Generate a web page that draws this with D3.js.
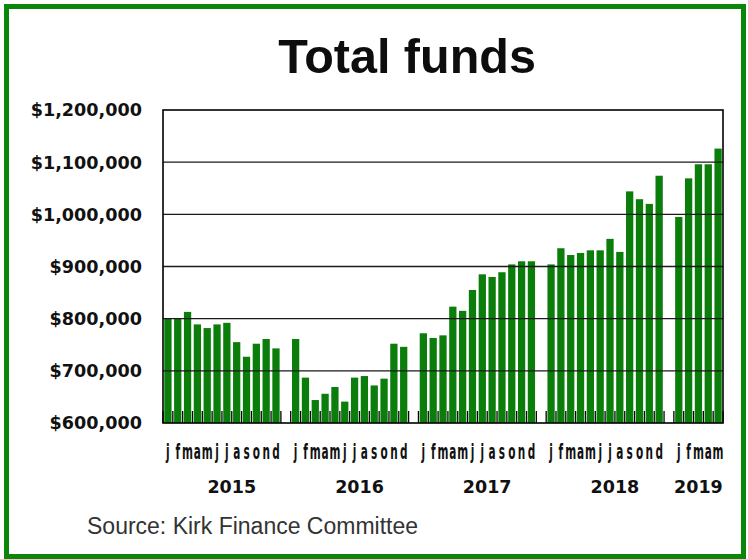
<!DOCTYPE html>
<html>
<head>
<meta charset="utf-8">
<script src="https://cdn.jsdelivr.net/npm/d3@7/dist/d3.min.js"></script>
<style>
  html, body { margin: 0; padding: 0; background: #fff; }
  svg { display: block; }
</style>
</head>
<body>
<svg id="chart" width="748" height="559"></svg>
<script>
// ---- data ----
const years = ["2015", "2016", "2017", "2018", "2019"];
const monthLetters = ["j", "f", "m", "a", "m", "j", "j", "a", "s", "o", "n", "d"];
const values2015 = [800000, 800000, 813000, 789000, 782000, 789000, 792000, 755000, 727000, 752000, 761000, 743000];
const values2016 = [761000, 687000, 644000, 656000, 669000, 641000, 687000, 690000, 672000, 685000, 752000, 746000];
const values2017 = [772000, 763000, 768000, 823000, 815000, 855000, 885000, 880000, 889000, 904000, 910000, 910000];
const values2018 = [904000, 935000, 922000, 926000, 931000, 931000, 953000, 928000, 1044000, 1029000, 1020000, 1074000];
const values2019 = [995000, 1069000, 1096000, 1096000, 1126000];
const yTicks = [600000, 700000, 800000, 900000, 1000000, 1100000, 1200000];
const seriesByYear = [values2015, values2016, values2017, values2018, values2019];

// ---- build slots (one empty slot between years) ----
const slots = [];
const groups = [];
seriesByYear.forEach((vals, yi) => {
  const first = slots.length;
  vals.forEach((v, mi) => {
    slots.push({ id: years[yi] + "-" + mi, year: years[yi], letter: monthLetters[mi], value: v });
  });
  groups.push({ year: years[yi], first: first, n: vals.length });
  if (yi < seriesByYear.length - 1) slots.push({ id: "gap" + yi, gap: true });
});

const svg = d3.select("#chart");
const plot = { left: 163, right: 723, top: 110, bottom: 423 };

// outer green frame
svg.append("rect")
  .attr("x", 6.5).attr("y", 6.5)
  .attr("width", 737).attr("height", 550)
  .attr("fill", "#fff")
  .attr("stroke", "#0a860a")
  .attr("stroke-width", 5);

const x = d3.scaleBand()
  .domain(slots.map(d => d.id))
  .range([plot.left, plot.right])
  .paddingInner(0.26)
  .paddingOuter(0.13);

const y = d3.scaleLinear()
  .domain([600000, 1200000])
  .range([plot.bottom, plot.top]);

const step = x.step();

// title
svg.append("text")
  .attr("x", 407).attr("y", 73)
  .attr("text-anchor", "middle")
  .attr("font-family", "'Liberation Sans', Arial, sans-serif")
  .attr("font-weight", "bold")
  .attr("font-size", 48.5)
  .attr("fill", "#0d0d0d")
  .text("Total funds");

// bars
svg.append("g").selectAll("rect")
  .data(slots.filter(d => !d.gap))
  .join("rect")
  .attr("x", d => x(d.id))
  .attr("width", x.bandwidth())
  .attr("y", d => y(d.value))
  .attr("height", d => y(600000) - y(d.value))
  .attr("fill", "#0b7d0b");

// gridlines (drawn over bars as in the reference)
svg.append("g").selectAll("line")
  .data(yTicks.filter(t => t > 600000 && t < 1200000))
  .join("line")
  .attr("x1", plot.left).attr("x2", plot.right)
  .attr("y1", d => y(d)).attr("y2", d => y(d))
  .attr("stroke", "#1a1a1a")
  .attr("stroke-width", 1.4);

// tick marks at slot boundaries (inside, at bottom)
const boundaries = slots.map(d => x(d.id) - step * x.paddingInner() / 2);
boundaries.push(plot.right);
svg.append("g").selectAll("line")
  .data(boundaries)
  .join("line")
  .attr("x1", d => d).attr("x2", d => d)
  .attr("y1", plot.bottom - 12).attr("y2", plot.bottom)
  .attr("stroke", "#000")
  .attr("stroke-width", 1.3);

// plot frame
svg.append("rect")
  .attr("x", plot.left).attr("y", plot.top)
  .attr("width", plot.right - plot.left)
  .attr("height", plot.bottom - plot.top)
  .attr("fill", "none")
  .attr("stroke", "#000")
  .attr("stroke-width", 1.6);

// y labels
const fmt = d3.format("$,");
svg.append("g").selectAll("text")
  .data(yTicks)
  .join("text")
  .attr("x", 142)
  .attr("y", d => y(d))
  .attr("dy", "0.36em")
  .attr("text-anchor", "end")
  .attr("font-family", "'DejaVu Sans', Verdana, sans-serif")
  .attr("font-weight", "bold")
  .attr("font-size", 17.6)
  .attr("fill", "#111")
  .text(d => fmt(d));

// month letters (condensed)
svg.append("g").selectAll("text")
  .data(slots.filter(d => !d.gap))
  .join("text")
  .attr("transform", d => `translate(${x(d.id) + x.bandwidth() / 2},459) scale(0.5,1)`)
  .attr("text-anchor", "middle")
  .attr("font-family", "'DejaVu Sans', Verdana, sans-serif")
  .attr("font-weight", "bold")
  .attr("font-size", 21)
  .attr("fill", "#111")
  .text(d => d.letter);

// year labels
svg.append("g").selectAll("text")
  .data(groups)
  .join("text")
  .attr("x", g => {
    const start = x(slots[g.first].id) - step * x.paddingInner() / 2;
    return g.n === 12 ? start + 7 * step : start + (g.n / 2) * step;
  })
  .attr("y", 493)
  .attr("text-anchor", "middle")
  .attr("font-family", "'DejaVu Sans', Verdana, sans-serif")
  .attr("font-weight", "bold")
  .attr("font-size", 17.5)
  .attr("fill", "#111")
  .text(g => g.year);

// source
svg.append("text")
  .attr("x", 87).attr("y", 534)
  .attr("font-family", "'Liberation Sans', Arial, sans-serif")
  .attr("font-size", 23)
  .attr("fill", "#333")
  .text("Source: Kirk Finance Committee");
</script>
</body>
</html>
